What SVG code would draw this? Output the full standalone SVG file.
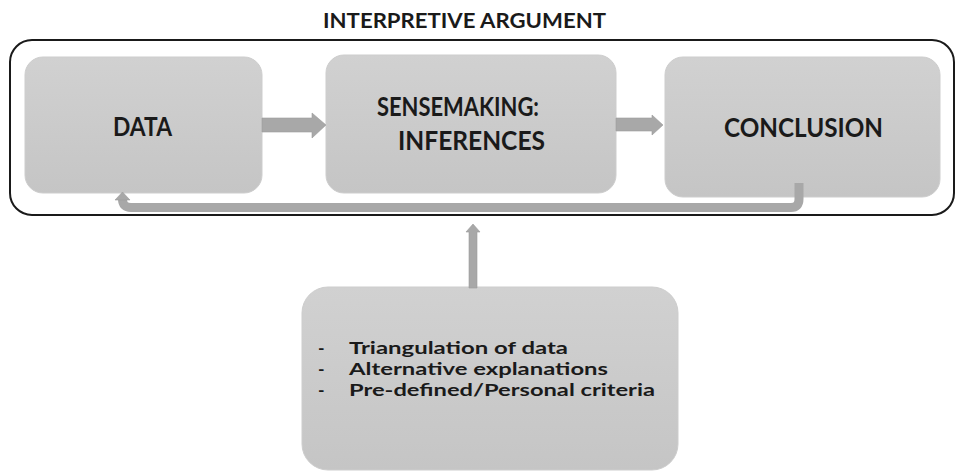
<svg xmlns="http://www.w3.org/2000/svg" width="957" height="472" viewBox="0 0 957 472">
<defs>
<linearGradient id="g" x1="0" y1="0" x2="0" y2="1">
<stop offset="0" stop-color="#d1d1d1"/>
<stop offset="1" stop-color="#c5c5c5"/>
</linearGradient>
</defs>
<style>
.box{fill:url(#g);stroke:#cdcdcd;stroke-width:1}
.t{font-family:Lato,"Liberation Sans",sans-serif;font-weight:bold;fill:#1a1a1a}
.arr{fill:#a8a8a8;stroke:#9a9a9a;stroke-width:0.6}
.line{fill:none;stroke:#a8a8a8;stroke-width:9}
</style>
<rect width="957" height="472" fill="#ffffff"/>
<g id="header">
<text class="t" x="323" y="28" font-size="21" textLength="283" lengthAdjust="spacingAndGlyphs">INTERPRETIVE ARGUMENT</text>
</g>
<g id="outer">
<rect x="10" y="40" width="944" height="175" rx="22" ry="22" fill="none" stroke="#1a1a1a" stroke-width="2"/>
</g>
<g id="data">
<rect class="box" x="25" y="57" width="237" height="136" rx="18" ry="18"/>
<text class="t" x="113" y="136" font-size="26" textLength="59" lengthAdjust="spacingAndGlyphs">DATA</text>
</g>
<g id="sensemaking">
<rect class="box" x="326" y="55" width="290" height="138" rx="18" ry="18"/>
<text class="t" x="377" y="116" font-size="26" textLength="162" lengthAdjust="spacingAndGlyphs">SENSEMAKING:</text>
<text class="t" x="398" y="150" font-size="26" textLength="147" lengthAdjust="spacingAndGlyphs">INFERENCES</text>
</g>
<g id="conclusion">
<rect class="box" x="665" y="57" width="275" height="140" rx="18" ry="18"/>
<text class="t" x="724" y="137" font-size="26" textLength="159" lengthAdjust="spacingAndGlyphs">CONCLUSION</text>
</g>
<g id="criteria">
<rect class="box" x="302" y="287" width="376" height="183" rx="26" ry="26"/>
<text class="t" font-size="17.5">
<tspan x="318" y="354">-</tspan><tspan x="349" y="354" textLength="219" lengthAdjust="spacingAndGlyphs">Triangulation of data</tspan>
<tspan x="318" y="375">-</tspan><tspan x="349" y="375" textLength="259" lengthAdjust="spacingAndGlyphs">Alternative explanations</tspan>
<tspan x="318" y="396">-</tspan><tspan x="349" y="396" textLength="306" lengthAdjust="spacingAndGlyphs">Pre-defined/Personal criteria</tspan>
</text>
</g>
<g id="connectors">
<polygon class="arr" points="262,118 312,118 312,113 326,125 312,138 312,132 262,132"/>
<polygon class="arr" points="616,118 652,118 652,115 663,125 652,135 652,131 616,131"/>
<path class="line" d="M799,183 V199 Q799,207.5 791,207.5 H131 Q122.5,207.5 122.5,199 V199"/>
<polygon class="arr" points="115,200 122.5,192 130,200"/>
<polygon class="arr" points="469,288 469,232 466,232 473,224 480,232 477,232 477,288"/>
</g>
</svg>
